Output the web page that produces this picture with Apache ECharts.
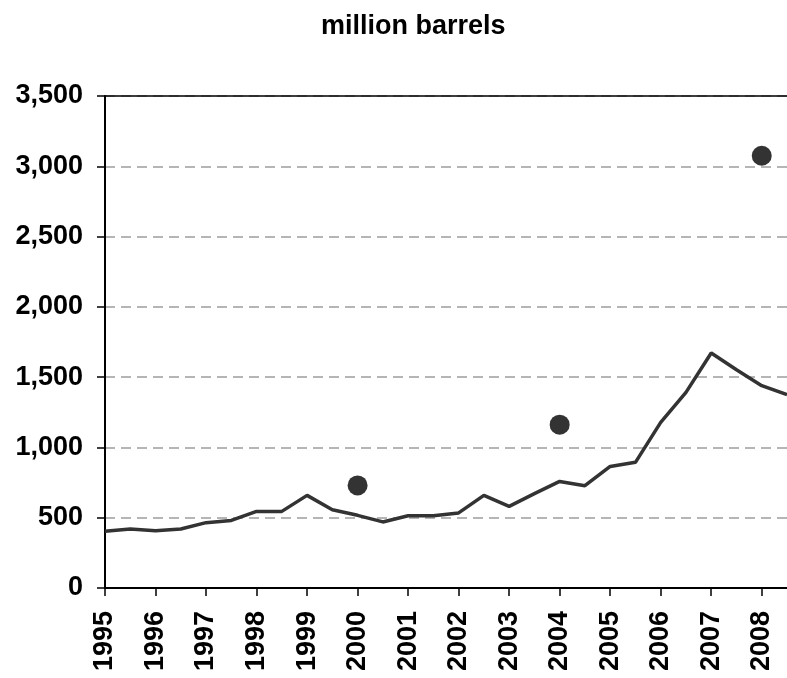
<!DOCTYPE html>
<html>
<head>
<meta charset="utf-8">
<script src="https://cdn.jsdelivr.net/npm/echarts@6/dist/echarts.min.js"></script>
<style>
  html, body { margin: 0; padding: 0; background: #fff; }
  #chart { width: 787px; height: 678px; }
</style>
</head>
<body>
<div id="chart"></div>
<script>
// half-year periods, labels only on the whole years
var periods = [
  "1995", "1995 H2", "1996", "1996 H2", "1997", "1997 H2", "1998", "1998 H2",
  "1999", "1999 H2", "2000", "2000 H2", "2001", "2001 H2", "2002", "2002 H2",
  "2003", "2003 H2", "2004", "2004 H2", "2005", "2005 H2", "2006", "2006 H2",
  "2007", "2007 H2", "2008", "2008 H2"
];
var lineValues = [
  403, 420, 408, 420, 465, 481, 545, 545,
  659, 557, 517, 470, 514, 514, 534, 659,
  581, 671, 758, 728, 865, 894, 1178, 1392,
  1672, 1553, 1439, 1375
];
var dotPeriods = ["2000", "2004", "2008"];
var dotValues = [730, 1162, 3075];
var yTicks = [0, 500, 1000, 1500, 2000, 2500, 3000, 3500];

var font = "'Liberation Sans', Arial, sans-serif";
var chart = echarts.init(document.getElementById("chart"));

var dots = [];
for (var i = 0; i < dotPeriods.length; i++) {
  dots.push([dotPeriods[i], dotValues[i]]);
}

chart.setOption({
  animation: false,
  title: {
    text: "million barrels",
    left: 316,
    top: 8,
    textStyle: { fontFamily: font, fontWeight: "bold", fontSize: 27, color: "#000" }
  },
  grid: { left: 105, right: 0, top: 96, bottom: 90 },
  xAxis: [{
    type: "category",
    data: periods,
    boundaryGap: false,
    axisLine: { lineStyle: { color: "#000", width: 2 } },
    axisTick: { interval: 1, length: 8, lineStyle: { color: "#000", width: 1.5 } },
    axisLabel: {
      interval: 1,
      rotate: 90,
      margin: 23,
      fontFamily: font,
      fontWeight: "bold",
      fontSize: 27,
      color: "#000",
      formatter: function (v) { return v.slice(0, 4); }
    },
    splitLine: { show: false }
  }, {
    type: "category",
    position: "top",
    data: periods,
    boundaryGap: false,
    axisLine: { lineStyle: { color: "#000", width: 1.5 } },
    axisTick: { show: false },
    axisLabel: { show: false }
  }],
  yAxis: {
    type: "value",
    min: yTicks[0],
    max: yTicks[yTicks.length - 1],
    interval: 500,
    axisLine: { show: true, lineStyle: { color: "#000", width: 2 } },
    axisTick: { show: true, length: 8, lineStyle: { color: "#000", width: 1.5 } },
    axisLabel: {
      margin: 22,
      fontFamily: font,
      fontWeight: "bold",
      fontSize: 27,
      color: "#000",
      formatter: function (v) { return v.toLocaleString("en-US"); }
    },
    splitLine: { lineStyle: { color: "#b5b5b5", width: 2, type: [10, 6] } }
  },
  series: [{
    type: "line",
    data: lineValues,
    symbol: "none",
    lineStyle: { color: "#333", width: 3.5 }
  }, {
    type: "scatter",
    data: dots,
    symbol: "circle",
    symbolSize: 20,
    itemStyle: { color: "#000" }
  }]
});
</script>
</body>
</html>
